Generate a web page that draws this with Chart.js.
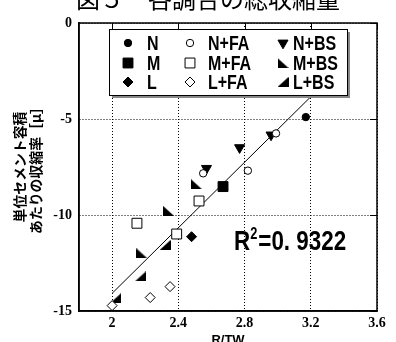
<!DOCTYPE html>
<html>
<head>
<meta charset="utf-8">
<script src="https://cdn.jsdelivr.net/npm/chart.js@4.4.0/dist/chart.umd.min.js"></script>
<style>
  html, body { margin: 0; padding: 0; background: #fff; }
</style>
</head>
<body>
<canvas id="shrinkChart" width="396" height="342"></canvas>
<script>
// values (x = R/TW, y = shrinkage per unit cement volume)
const nX = [3.17];
const nY = [-4.9];
const mX = [2.67];
const mY = [-8.52];
const lX = [2.48];
const lY = [-11.13];
const nfaX = [2.99, 2.82, 2.55];
const nfaY = [-5.75, -7.69, -7.83];
const mfaX = [2.525, 2.15, 2.39];
const mfaY = [-9.27, -10.43, -10.99];
const lfaX = [2.35, 2.23, 2.0];
const lfaY = [-13.73, -14.3, -14.72];
const nbsX = [2.96, 2.77, 2.57];
const nbsY = [-5.83, -6.49, -7.57];
const mbsX = [2.51, 2.34, 2.18];
const mbsY = [-8.4, -9.78, -12.0];
const lbsX = [2.32, 2.17, 2.02];
const lbsY = [-11.56, -13.2, -14.34];

const fitX = [2.0, 3.22];
const fitY = [-14.08, -3.67];

const xTicks = [2, 2.4, 2.8, 3.2, 3.6];
const yTicks = [-15, -10, -5, 0];

const titleText = '図５　各調合の総収縮量';
const yTitle = ['単位セメント容積', 'あたりの収縮率［μ］'];
const xTitle = 'R/TW';
const r2Text = '=0. 9322';

const toPoints = (xs, ys) => xs.map((x, i) => ({ x: x, y: ys[i] }));

const cjk = '"Noto Sans CJK JP", sans-serif';
const sans = '"Liberation Sans", Arial, sans-serif';

// size the y title so its longer line is about 134px long, as in the original
const probe = document.createElement('canvas').getContext('2d');
probe.font = 'bold 12px ' + cjk;
const yTitleSize = Math.min(16, 12 * 134 / probe.measureText(yTitle[1]).width);

// half-square triangle markers (◣ and ◢)
const cornerTriangle = (side) => {
  const c = document.createElement('canvas');
  c.width = 11;
  c.height = 10;
  const g = c.getContext('2d');
  g.fillStyle = '#000';
  g.beginPath();
  if (side === 'left') {
    g.moveTo(0, 0); g.lineTo(0, 10); g.lineTo(11, 10);
  } else {
    g.moveTo(11, 0); g.lineTo(11, 10); g.lineTo(0, 10);
  }
  g.closePath();
  g.fill();
  return c;
};
const mbsMark = cornerTriangle('left');
const lbsMark = cornerTriangle('right');

const scatter = (label, xs, ys, style, open, extra) => Object.assign({
  type: 'scatter',
  label: label,
  data: toPoints(xs, ys),
  pointStyle: style,
  pointRadius: 4,
  pointBorderWidth: 1,
  pointBorderColor: '#000',
  pointBackgroundColor: open ? '#fff' : '#000',
  legendCol: 0,
  legendRow: 0
}, extra);

const datasets = [
  scatter('N', nX, nY, 'circle', false, { pointRadius: 3.7, legendCol: 0, legendRow: 0 }),
  scatter('M', mX, mY, 'rect', false, { pointRadius: 7, legendCol: 0, legendRow: 1 }),
  scatter('L', lX, lY, 'rectRot', false, { pointRadius: 5, legendCol: 0, legendRow: 2 }),
  scatter('N+FA', nfaX, nfaY, 'circle', true, { pointRadius: 3.7, legendCol: 1, legendRow: 0 }),
  scatter('M+FA', mfaX, mfaY, 'rect', true, { pointRadius: 7, legendCol: 1, legendRow: 1 }),
  scatter('L+FA', lfaX, lfaY, 'rectRot', true, { pointRadius: 5, legendCol: 1, legendRow: 2 }),
  scatter('N+BS', nbsX, nbsY, 'triangle', false, { pointRadius: 5.8, pointRotation: 180, legendCol: 2, legendRow: 0 }),
  scatter('M+BS', mbsX, mbsY, mbsMark, false, { legendCol: 2, legendRow: 1 }),
  scatter('L+BS', lbsX, lbsY, lbsMark, false, { legendCol: 2, legendRow: 2 }),
  {
    type: 'line',
    label: 'fit',
    data: toPoints(fitX, fitY),
    borderColor: '#000',
    borderWidth: 1,
    pointRadius: 0,
    fill: false,
    order: 10
  }
];

// condensed bold text (the original uses a narrow face)
const narrowText = (ctx, text, x, y, size, squeeze) => {
  ctx.save();
  ctx.font = 'bold ' + size + 'px ' + sans;
  ctx.translate(x, y);
  ctx.scale(squeeze, 1);
  ctx.fillText(text, 0, 0);
  const w = ctx.measureText(text).width * squeeze;
  ctx.restore();
  return w;
};

// frame, inner ticks, legend box, R² label and page title
const decorations = {
  id: 'decorations',
  afterDatasetsDraw(chart) {
    const { ctx, chartArea: a, scales } = chart;
    ctx.save();

    // frame + inward ticks on top / right
    ctx.strokeStyle = '#000';
    ctx.lineWidth = 1.5;
    ctx.strokeRect(a.left, a.top, a.right - a.left, a.bottom - a.top);
    ctx.lineWidth = 1;
    ctx.beginPath();
    xTicks.forEach((v) => {
      const px = Math.round(scales.x.getPixelForValue(v)) + 0.5;
      ctx.moveTo(px, a.top);
      ctx.lineTo(px, a.top + 7);
    });
    yTicks.forEach((v) => {
      const py = Math.round(scales.y.getPixelForValue(v)) + 0.5;
      ctx.moveTo(a.right, py);
      ctx.lineTo(a.right - 7, py);
    });
    ctx.stroke();

    // legend box with shadow
    const bx = 109, by = 29, bw = 238, bh = 66;
    ctx.fillStyle = '#888';
    ctx.fillRect(bx + 3, by + 3, bw, bh);
    ctx.fillStyle = '#fff';
    ctx.fillRect(bx, by, bw, bh);
    ctx.strokeStyle = '#000';
    ctx.lineWidth = 1;
    ctx.strokeRect(bx + 0.5, by + 0.5, bw, bh);

    const markX = [128, 190, 283];
    const textX = [147, 208, 293];
    const rowY = [43, 63, 82];
    ctx.textBaseline = 'middle';
    ctx.textAlign = 'left';
    chart.data.datasets.forEach((ds) => {
      if (ds.type !== 'scatter') return;
      const mx = markX[ds.legendCol];
      const my = rowY[ds.legendRow];
      ctx.fillStyle = ds.pointBackgroundColor;
      ctx.strokeStyle = ds.pointBorderColor;
      ctx.lineWidth = 1;
      Chart.helpers.drawPoint(ctx, {
        pointStyle: ds.pointStyle,
        rotation: ds.pointRotation || 0,
        radius: ds.pointRadius,
        borderWidth: 1
      }, mx, my);
      ctx.fillStyle = '#000';
      narrowText(ctx, ds.label, textX[ds.legendCol], my + 1, 20, 0.8);
    });

    // R² label
    ctx.fillStyle = '#000';
    ctx.textBaseline = 'alphabetic';
    let px = 234;
    px += narrowText(ctx, 'R', px, 250, 28, 0.8);
    px += narrowText(ctx, '2', px, 239, 16, 0.8) + 1;
    narrowText(ctx, r2Text, px, 250, 28, 0.8);

    // title, cut off at the top of the picture
    ctx.font = '24px ' + cjk;
    ctx.textAlign = 'center';
    ctx.fillText(titleText, 208, 8);
    ctx.restore();
  }
};

new Chart(document.getElementById('shrinkChart'), {
  data: { datasets: datasets },
  plugins: [decorations],
  options: {
    responsive: false,
    animation: false,
    layout: { padding: { top: 23, right: 19, left: 0, bottom: 0 } },
    plugins: {
      legend: { display: false },
      tooltip: { enabled: false }
    },
    scales: {
      x: {
        type: 'linear',
        min: 1.8,
        max: 3.6,
        afterBuildTicks: (scale) => { scale.ticks = xTicks.map((v) => ({ value: v })); },
        afterFit: (scale) => { scale.height = 31; },
        ticks: {
          color: '#000',
          padding: 4,
          font: { family: '"Liberation Serif", serif', weight: 'bold', size: 14 },
          callback: (v) => String(v)
        },
        grid: { color: '#000', lineWidth: 1, drawTicks: false },
        border: { color: '#000', width: 1.5, dash: [1, 2] },
        title: {
          display: true,
          text: xTitle,
          color: '#000',
          padding: { top: 0, bottom: -5 },
          font: { family: sans, weight: 'bold', size: 13, lineHeight: 1 }
        }
      },
      y: {
        type: 'linear',
        min: -15,
        max: 0,
        afterBuildTicks: (scale) => { scale.ticks = yTicks.map((v) => ({ value: v })); },
        afterFit: (scale) => { scale.width = 79; },
        ticks: {
          color: '#000',
          padding: 7,
          font: { family: '"Liberation Serif", serif', weight: 'bold', size: 14 }
        },
        grid: { color: '#000', lineWidth: 1, drawTicks: false },
        border: { color: '#000', width: 1.5, dash: [1, 2] },
        title: {
          display: true,
          text: yTitle,
          color: '#000',
          padding: { top: 20 - yTitleSize * 0.62, bottom: 0 },
          font: { family: cjk, weight: 'bold', size: yTitleSize, lineHeight: 16 / yTitleSize }
        }
      }
    }
  }
});
</script>
</body>
</html>
